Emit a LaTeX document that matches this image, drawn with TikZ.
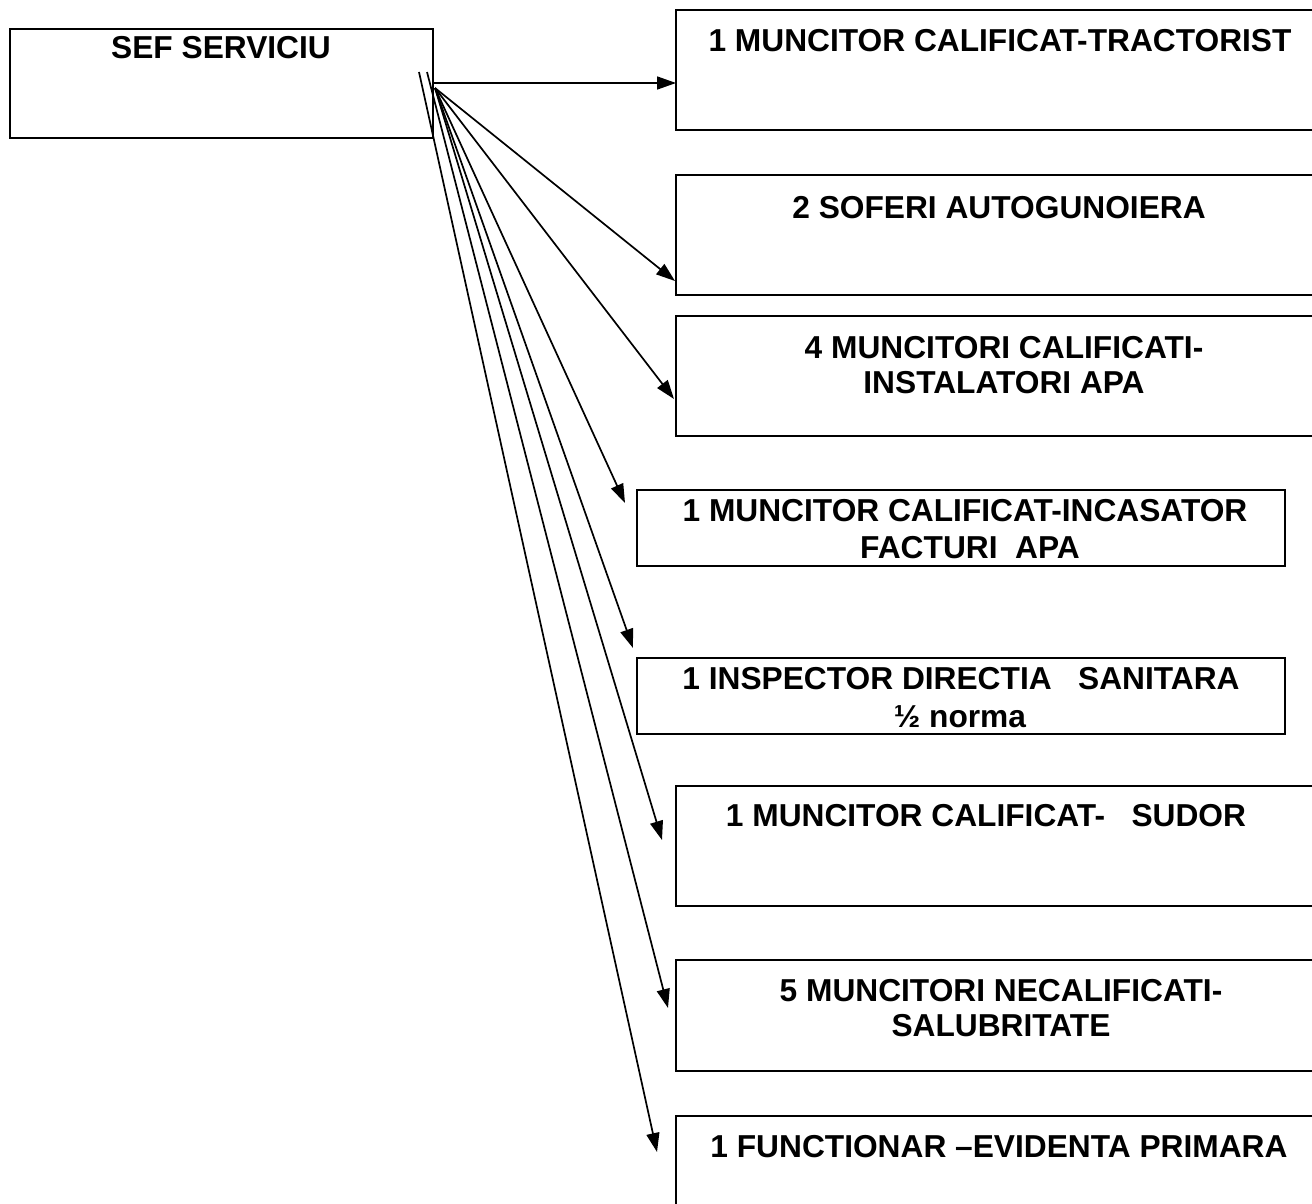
\documentclass[tikz,border=0pt]{standalone}
\usepackage{fontspec}
\setmainfont{Liberation Sans}
\usetikzlibrary{arrows.meta}
\begin{document}
\begin{tikzpicture}[x=0.5pt,y=-0.5pt,
  box/.style={draw, line width=1.1pt, inner sep=0pt, outer sep=0pt},
  bigbox/.style={box, minimum width=327pt, minimum height=60pt},
  midbox/.style={box, minimum width=324pt, minimum height=38pt},
  lbl/.style={anchor=base, inner sep=0pt, font=\fontsize{15.85}{19}\selectfont\bfseries},
  conn/.style={line width=0.85pt, -{Triangle[length=9.5pt,width=6.5pt]}}]
\useasboundingbox (0,0) rectangle (1312,1204);
\begin{scope}
\clip (0,0) rectangle (1312,1204);
% boxes
\node[box, minimum width=211.5pt, minimum height=54.5pt] (sef) at (221.5,83.5) {};
\node[bigbox] (b1) at (1003,70) {};
\node[bigbox] (b2) at (1003,235) {};
\node[bigbox] (b3) at (1003,376) {};
\node[midbox] (b4) at (961,528) {};
\node[midbox] (b5) at (961,696) {};
\node[bigbox] (b6) at (1003,846) {};
\node[box, minimum width=327pt, minimum height=55.5pt] (b7) at (1003,1015.5) {};
\node[box, minimum width=327pt, minimum height=57pt] (b8) at (1003,1173) {};
\end{scope}
% labels
\node[lbl] (lsef) at (221,59) {SEF SERVICIU};
\node[lbl] (l1) at (1000,52) {1 MUNCITOR CALIFICAT-TRACTORIST};
\node[lbl] (l2) at (999,218) {2 SOFERI AUTOGUNOIERA};
\node[lbl] (l3a) at (1004,358) {4 MUNCITORI CALIFICATI-};
\node[lbl] (l3b) at (1004,393) {INSTALATORI APA};
\node[lbl] (l4a) at (965,521) {1 MUNCITOR CALIFICAT-INCASATOR};
\node[lbl] (l4b) at (970,558) {FACTURI\ \ APA};
\node[lbl] (l5a) at (961,689) {1 INSPECTOR DIRECTIA\ \ \ SANITARA};
\node[lbl] (l5b) at (960,727) {½ norma};
\node[lbl] (l6) at (986,826) {1 MUNCITOR CALIFICAT-\ \ \ SUDOR};
\node[lbl] (l7a) at (1001,1001) {5 MUNCITORI NECALIFICATI-};
\node[lbl] (l7b) at (1001,1036) {SALUBRITATE};
\node[lbl] (l8) at (999,1157) {1 FUNCTIONAR –EVIDENTA PRIMARA};
% connector origins and ends
\coordinate (o0) at (433,83);
\coordinate (o1) at (435,88);
\coordinate (o2) at (427,72);
\coordinate (o3) at (419,72);
\coordinate (e1) at (676,83);
\coordinate (e2) at (675,281);
\coordinate (e3) at (674,399);
\coordinate (e4) at (625,503);
\coordinate (e5) at (633,648);
\coordinate (e6) at (662,840);
\coordinate (e7) at (668,1008);
\coordinate (e8) at (657,1152);
% connectors
\draw[conn] (o0) -- (e1);
\draw[conn] (o1) -- (e2);
\draw[conn] (o1) -- (e3);
\draw[conn] (o1) -- (e4);
\draw[conn] (o1) -- (e5);
\draw[conn] (o1) -- (e6);
\draw[conn] (o2) -- (e7);
\draw[conn] (o3) -- (e8);
\end{tikzpicture}
\end{document}
